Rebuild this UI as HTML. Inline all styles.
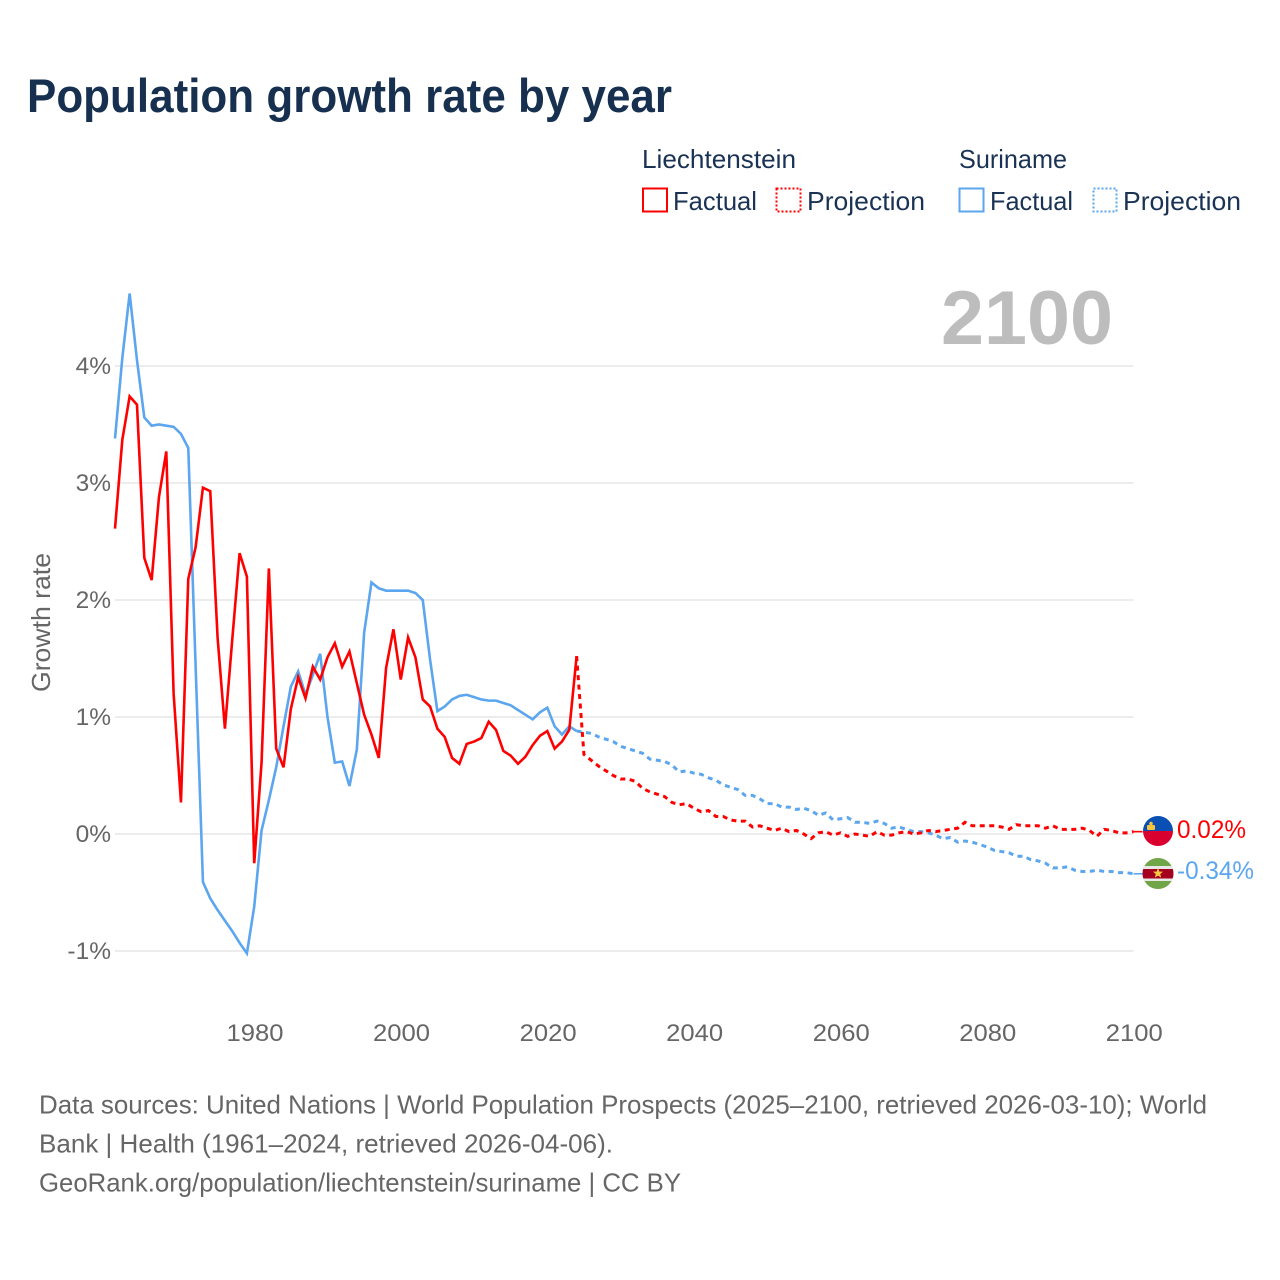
<!DOCTYPE html>
<html lang="en">
<head>
<meta charset="utf-8">
<title>Population growth rate by year</title>
<style>
html,body{margin:0;padding:0;background:#fff}
svg{display:block}
text{font-family:"Liberation Sans",sans-serif}
</style>
</head>
<body>
<svg id="chart" xmlns="http://www.w3.org/2000/svg" width="1280" height="1280" viewBox="0 0 1280 1280">
  <rect x="0" y="0" width="1280" height="1280" fill="#fff"/>
  <text x="27" y="112" font-size="47" font-weight="700" fill="#17304f" textLength="645" lengthAdjust="spacingAndGlyphs">Population growth rate by year</text>

  <g font-size="26" fill="#1a3354">
    <text x="642" y="168" textLength="154" lengthAdjust="spacingAndGlyphs">Liechtenstein</text>
    <text x="959" y="168" textLength="108" lengthAdjust="spacingAndGlyphs">Suriname</text>
    <rect x="643" y="188.5" width="24" height="23" fill="none" stroke="#ff0000" stroke-width="2"/>
    <text x="673" y="210" textLength="84" lengthAdjust="spacingAndGlyphs">Factual</text>
    <rect x="776.5" y="188.5" width="24" height="23" fill="none" stroke="#ff0000" stroke-width="2" stroke-dasharray="2 2"/>
    <text x="807" y="210" textLength="118" lengthAdjust="spacingAndGlyphs">Projection</text>
    <rect x="959.5" y="188.5" width="24" height="23" fill="none" stroke="#5ba6ee" stroke-width="2"/>
    <text x="990" y="210" textLength="83" lengthAdjust="spacingAndGlyphs">Factual</text>
    <rect x="1093.5" y="188.5" width="23" height="23" fill="none" stroke="#5ba6ee" stroke-width="2" stroke-dasharray="2 2"/>
    <text x="1123" y="210" textLength="118" lengthAdjust="spacingAndGlyphs">Projection</text>
  </g>

  <g id="grid"></g>
  <text x="941" y="344" font-size="76" font-weight="700" fill="#bdbdbd" textLength="172" lengthAdjust="spacingAndGlyphs">2100</text>
  <g id="yticks" font-size="24.5" fill="#666" text-anchor="end"></g>
  <g id="xticks" font-size="24.5" fill="#666" text-anchor="middle"></g>
  <text transform="translate(50,692) rotate(-90)" font-size="26" fill="#666" textLength="139" lengthAdjust="spacingAndGlyphs">Growth rate</text>
  <g id="series"></g>

  <defs>
    <clipPath id="clip-li"><circle cx="1158" cy="831" r="15"/></clipPath>
    <clipPath id="clip-sr"><circle cx="1158" cy="873.5" r="15.5"/></clipPath>
  </defs>
  <g clip-path="url(#clip-li)">
    <rect x="1143" y="815" width="30" height="16" fill="#0a50b4"/>
    <rect x="1143" y="831" width="30" height="16" fill="#d90030"/>
    <rect x="1147" y="825" width="8" height="5" rx="1" fill="#f4c53d"/>
    <circle cx="1151" cy="823.5" r="1.8" fill="#f4c53d"/>
  </g>
  <g clip-path="url(#clip-sr)">
    <rect x="1142" y="857" width="32" height="33" fill="#70a647"/>
    <rect x="1142" y="866" width="32" height="15" fill="#e8e8e8"/>
    <rect x="1142" y="869" width="32" height="9.5" fill="#a5001f"/>
    <polygon points="1158,868 1159.4,871.6 1163,871.6 1160.2,874 1161.2,877.6 1158,875.6 1154.8,877.6 1155.8,874 1153,871.6 1156.6,871.6" fill="#f6cb40"/>
  </g>
  <text x="1177" y="838" font-size="25" fill="#ff0000" textLength="69" lengthAdjust="spacingAndGlyphs">0.02%</text>
  <text x="1177" y="879" font-size="25" fill="#5ba6ee" textLength="77" lengthAdjust="spacingAndGlyphs">-0.34%</text>

  <g font-size="26" fill="#666">
    <text x="39" y="1113.5" textLength="1168" lengthAdjust="spacingAndGlyphs">Data sources: United Nations | World Population Prospects (2025–2100, retrieved 2026-03-10); World</text>
    <text x="39" y="1152.5" textLength="574" lengthAdjust="spacingAndGlyphs">Bank | Health (1961–2024, retrieved 2026-04-06).</text>
    <text x="39" y="1191.5" textLength="642" lengthAdjust="spacingAndGlyphs">GeoRank.org/population/liechtenstein/suriname | CC BY</text>
  </g>
</svg>
<script>
const firstYear = 1961;
const lastFactualYear = 2024;
const yTickValues = [-1, 0, 1, 2, 3, 4];
const yTickLabels = ["-1%", "0%", "1%", "2%", "3%", "4%"];
const xTickValues = [1980, 2000, 2020, 2040, 2060, 2080, 2100];
const xTickLabels = ["1980", "2000", "2020", "2040", "2060", "2080", "2100"];

const liechtensteinFactual = [2.61,3.37,3.74,3.67,2.36,2.17,2.88,3.27,1.20,0.27,2.18,2.45,2.96,2.93,1.68,0.90,1.66,2.40,2.20,-0.25,0.61,2.27,0.73,0.57,1.07,1.34,1.16,1.43,1.32,1.51,1.63,1.43,1.56,1.29,1.02,0.85,0.65,1.42,1.75,1.32,1.68,1.51,1.15,1.09,0.90,0.83,0.65,0.60,0.77,0.79,0.82,0.96,0.89,0.71,0.67,0.60,0.66,0.76,0.84,0.88,0.73,0.79,0.89,1.52];
const liechtensteinProjection = [0.68,0.63,0.58,0.54,0.50,0.47,0.47,0.45,0.39,0.36,0.34,0.32,0.27,0.25,0.26,0.22,0.19,0.20,0.15,0.15,0.12,0.11,0.11,0.06,0.07,0.05,0.03,0.05,0.02,0.03,0.00,-0.04,0.01,0.02,-0.01,0.01,-0.02,0.00,-0.01,-0.02,0.02,-0.01,-0.01,0.01,0.02,0.00,0.01,0.03,0.02,0.03,0.04,0.05,0.10,0.07,0.07,0.07,0.07,0.06,0.04,0.08,0.07,0.07,0.07,0.05,0.07,0.04,0.04,0.04,0.05,0.03,-0.02,0.04,0.03,0.01,0.01,0.02];
const surinameFactual = [3.38,4.07,4.62,4.05,3.56,3.49,3.50,3.49,3.48,3.42,3.30,1.44,-0.41,-0.55,-0.65,-0.74,-0.83,-0.93,-1.02,-0.62,0.03,0.29,0.57,0.92,1.26,1.39,1.19,1.36,1.54,1.00,0.61,0.62,0.41,0.72,1.72,2.15,2.10,2.08,2.08,2.08,2.08,2.06,2.00,1.49,1.05,1.09,1.15,1.18,1.19,1.17,1.15,1.14,1.14,1.12,1.10,1.06,1.02,0.98,1.04,1.08,0.92,0.85,0.92,0.88];
const surinameProjection = [0.87,0.86,0.83,0.81,0.79,0.75,0.73,0.71,0.69,0.64,0.63,0.62,0.59,0.53,0.54,0.52,0.51,0.48,0.46,0.42,0.40,0.38,0.33,0.33,0.30,0.26,0.26,0.23,0.23,0.21,0.22,0.20,0.16,0.18,0.12,0.13,0.14,0.10,0.10,0.09,0.11,0.09,0.05,0.06,0.04,0.02,0.02,0.01,-0.01,-0.04,-0.03,-0.07,-0.06,-0.07,-0.09,-0.11,-0.14,-0.15,-0.16,-0.19,-0.19,-0.22,-0.23,-0.25,-0.29,-0.29,-0.28,-0.31,-0.32,-0.32,-0.31,-0.32,-0.32,-0.33,-0.33,-0.34];

const SVG_NS = "http://www.w3.org/2000/svg";
function xScale(year) { return 115 + (year - 1961) * (1133.5 - 115) / (2100 - 1961); }
function yScale(value) { return 834 - value * 117; }

const gridGroup = document.getElementById("grid");
const yTickGroup = document.getElementById("yticks");
const xTickGroup = document.getElementById("xticks");
const seriesGroup = document.getElementById("series");

yTickValues.forEach(function (value, i) {
  const line = document.createElementNS(SVG_NS, "line");
  
  
  line.setAttribute("x1", xScale(1961));
  line.setAttribute("x2", xScale(2100));
  line.setAttribute("y1", yScale(value));
  line.setAttribute("y2", yScale(value));
  line.setAttribute("stroke", "#ececec");
  line.setAttribute("stroke-width", "2");
  gridGroup.appendChild(line);

  const label = document.createElementNS(SVG_NS, "text");
  
  
  label.setAttribute("x", 111);
  label.setAttribute("y", yScale(value) + 8);
  label.textContent = yTickLabels[i];
  yTickGroup.appendChild(label);
});

xTickValues.forEach(function (year, i) {
  const label = document.createElementNS(SVG_NS, "text");
  
  
  label.setAttribute("x", xScale(year) + 0.8);
  label.setAttribute("y", 1041);
  label.setAttribute("textLength", 57);
  label.setAttribute("lengthAdjust", "spacingAndGlyphs");
  label.textContent = xTickLabels[i];
  xTickGroup.appendChild(label);
});

function buildPath(values, startYear) {
  return values.map(function (v, i) {
    return (i ? "L" : "M") + xScale(startYear + i).toFixed(2) + " " + yScale(v).toFixed(2);
  }).join(" ");
}

function addSeries(name, color, factual, projection) {
  const lastFactual = factual[factual.length - 1];
  const projectionFull = [lastFactual].concat(projection);
  const lastValue = projection[projection.length - 1];

  const projectionPath = document.createElementNS(SVG_NS, "path");
  
  
  projectionPath.setAttribute("d", buildPath(projectionFull, lastFactualYear));
  projectionPath.setAttribute("fill", "none");
  projectionPath.setAttribute("stroke", color);
  projectionPath.setAttribute("stroke-width", "3");
  projectionPath.setAttribute("stroke-dasharray", "5 4.5");
  seriesGroup.appendChild(projectionPath);

  const factualPath = document.createElementNS(SVG_NS, "path");
  
  
  factualPath.setAttribute("d", buildPath(factual, firstYear));
  factualPath.setAttribute("fill", "none");
  factualPath.setAttribute("stroke", color);
  factualPath.setAttribute("stroke-width", "2.6");
  factualPath.setAttribute("stroke-linejoin", "miter");
  seriesGroup.appendChild(factualPath);

  const connector = document.createElementNS(SVG_NS, "line");
  
  
  connector.setAttribute("x1", xScale(2100));
  connector.setAttribute("x2", xScale(2100) + 9);
  connector.setAttribute("y1", yScale(lastValue));
  connector.setAttribute("y2", yScale(lastValue));
  connector.setAttribute("stroke", color);
  connector.setAttribute("stroke-width", "1.6");
  seriesGroup.appendChild(connector);
}

addSeries("suriname", "#5ba6ee", surinameFactual, surinameProjection);
addSeries("liechtenstein", "#ff0000", liechtensteinFactual, liechtensteinProjection);
</script>
</body>
</html>
